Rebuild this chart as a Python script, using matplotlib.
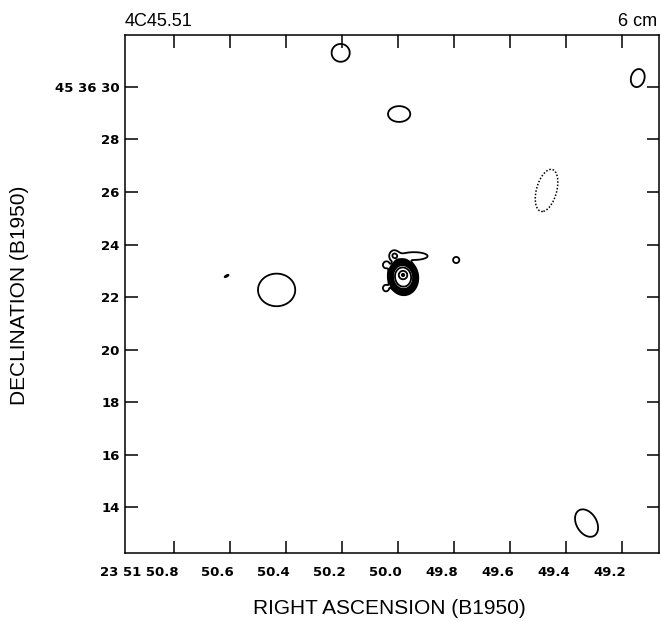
import numpy as np
import matplotlib
matplotlib.use("Agg")
import matplotlib.pyplot as plt
from matplotlib.transforms import ScaledTranslation

# Source components of the 6 cm map: RA seconds (23h51m), Dec arcsec (45d36m),
# peak in units of the lowest contour, widths (arcsec), tilt (deg) and
# profile order (1 = Gaussian, 2 = flat-topped)
comp_ra   = [49.982, 49.982, 49.943, 50.014, 50.043, 50.043, 49.792,
             50.205, 49.996, 49.143, 49.469, 50.434, 49.326, 50.613]
comp_dec  = [22.76, 22.84, 23.56, 23.58, 23.22, 22.34, 23.41,
             31.30, 28.97, 30.34, 26.06, 22.27, 13.39, 22.80]
comp_amp  = [40.0, 70.0, 1.9, 1.8, 1.7, 1.7, 1.6,
             1.6, 1.6, 1.6, -1.6, 1.6, 1.6, 1.15]
comp_smaj = [0.42, 0.083, 0.45, 0.17, 0.12, 0.12, 0.12,
             0.35, 0.43, 0.36, 0.85, 0.72, 0.58, 0.14]
comp_smin = [0.345, 0.083, 0.13, 0.14, 0.11, 0.11, 0.12,
             0.35, 0.31, 0.26, 0.39, 0.64, 0.39, 0.04]
comp_pa   = [-8, 0, 90, 0, 0, 0, 0,
             0, 90, 15, 15, 90, -30, 60]
comp_order = [2, 1, 1, 1, 1, 1, 1,
              1, 1, 1, 1, 1, 1, 1]

pos_levels = [1, 2, 3, 5, 7, 10, 15, 20, 30, 50, 100]
neg_levels = [-1]

ra_ticks = [50.8, 50.6, 50.4, 50.2, 50.0, 49.8, 49.6, 49.4, 49.2]
ra_labels = ["23 51 50.8", "50.6", "50.4", "50.2", "50.0", "49.8", "49.6", "49.4", "49.2"]
dec_ticks = [30, 28, 26, 24, 22, 20, 18, 16, 14]
dec_labels = ["45 36 30", "28", "26", "24", "22", "20", "18", "16", "14"]

ARCSEC_PER_SEC = 15.0 * np.cos(np.radians(45.6))

# model brightness on a grid
ra = np.linspace(48.95, 51.10, 1400)
dec = np.linspace(11.8, 32.5, 1400)
RA, DEC = np.meshgrid(ra, dec)
field = np.zeros_like(RA)
for r0, d0, a, smaj, smin, pa, n in zip(comp_ra, comp_dec, comp_amp,
                                        comp_smaj, comp_smin, comp_pa,
                                        comp_order):
    x = -(RA - r0) * ARCSEC_PER_SEC      # east to the left
    y = DEC - d0
    t = np.radians(pa)
    u = x * np.sin(t) + y * np.cos(t)
    v = x * np.cos(t) - y * np.sin(t)
    q = u**2 / smaj**2 + v**2 / smin**2
    field += a * np.exp(-0.5 * q**n)

fig = plt.figure(figsize=(6.6, 6.21), dpi=100)
ax = fig.add_axes([125 / 660, 68 / 621, 534 / 660, 518 / 621])

ax.contour(RA, DEC, field, levels=pos_levels, colors="black",
           linewidths=1.3, linestyles="solid")
ax.contour(RA, DEC, field, levels=neg_levels, colors="black",
           linewidths=1.1, linestyles=[(0, (1, 1.2))])

ax.set_xlim(50.976, 49.067)
ax.set_ylim(12.25, 31.98)

for s in ax.spines.values():
    s.set_linewidth(1.1)

tick_font = dict(family="DejaVu Sans", weight="bold", size=9.5)
ax.set_xticks(ra_ticks)
ax.set_xticklabels(ra_labels, **tick_font)
ax.set_yticks(dec_ticks)
ax.set_yticklabels(dec_labels, **tick_font)
ax.tick_params(direction="in", length=9, width=1.1, top=True, right=True,
               labeltop=False, labelright=False)
ax.tick_params(axis="x", pad=9)
ax.tick_params(axis="y", pad=4)
shift = ScaledTranslation(4 / 100, 0, fig.dpi_scale_trans)
for lab in ax.get_xticklabels():
    lab.set_horizontalalignment("right")
    lab.set_transform(lab.get_transform() + shift)

label_font = dict(family="Liberation Sans", size=15)
ax.set_xlabel("RIGHT ASCENSION (B1950)", **label_font)
ax.set_ylabel("DECLINATION (B1950)", **label_font)
ax.xaxis.set_label_coords(0.496, -0.088)
ax.yaxis.set_label_coords(-0.18, 0.498)

fig.text(125 / 660, 1 - 26 / 621, "4C45.51", family="Liberation Sans",
         size=13, ha="left", va="baseline")
fig.text(657 / 660, 1 - 26 / 621, "6 cm", family="Liberation Sans",
         size=13, ha="right", va="baseline")

fig.savefig("out.png", dpi=100)
